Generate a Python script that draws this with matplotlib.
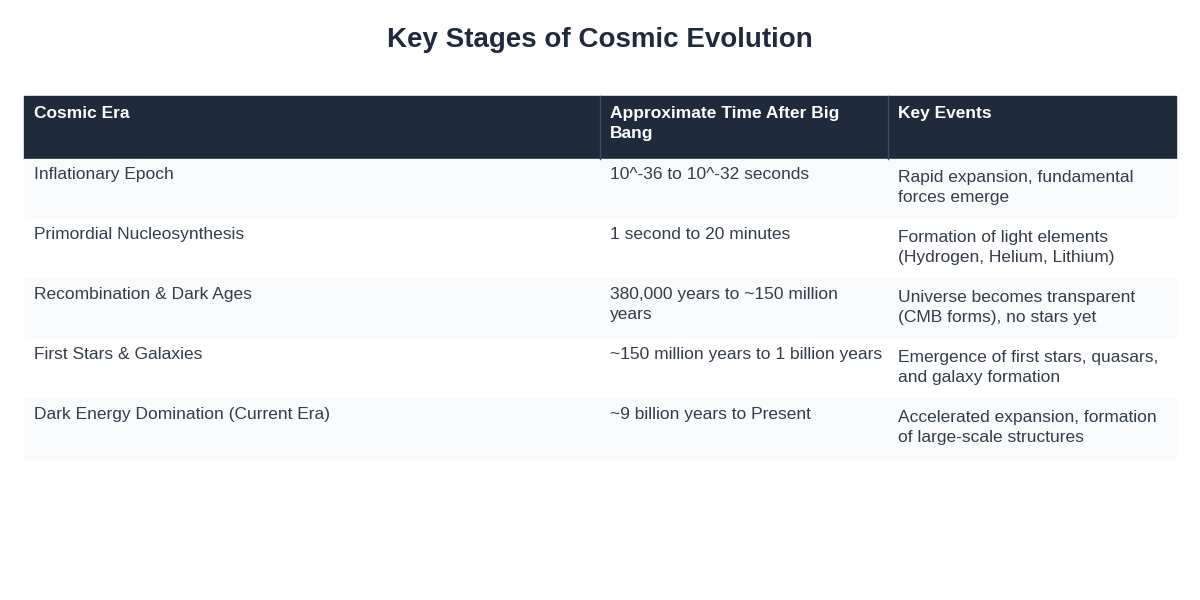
import matplotlib.pyplot as plt
from matplotlib.patches import Rectangle

plt.rcParams['font.family'] = ['Liberation Sans', 'DejaVu Sans']

#table content
title = "Key Stages of Cosmic Evolution"
headers = ["Cosmic Era", "Approximate Time After Big\nBang", "Key Events"]
eras = ["Inflationary Epoch", "Primordial Nucleosynthesis", "Recombination & Dark Ages",
        "First Stars & Galaxies", "Dark Energy Domination (Current Era)"]
times = ["10^-36 to 10^-32 seconds", "1 second to 20 minutes",
         "380,000 years to ~150 million\nyears", "~150 million years to 1 billion years",
         "~9 billion years to Present"]
events = ["Rapid expansion, fundamental\nforces emerge",
          "Formation of light elements\n(Hydrogen, Helium, Lithium)",
          "Universe becomes transparent\n(CMB forms), no stars yet",
          "Emergence of first stars, quasars,\nand galaxy formation",
          "Accelerated expansion, formation\nof large-scale structures"]

fig = plt.figure(figsize=(12, 6), dpi=100)
ax = fig.add_axes([0, 0, 1, 1])
ax.set_xlim(0, 1200)
ax.set_ylim(600, 0)
ax.axis('off')

col_x = [24, 600, 888, 1176]
header_top, header_h, row_h = 96, 63, 60
text_col = "#333d4a"

ax.text(600, 40, title, ha='center', va='center', fontsize=20, fontweight='bold', color="#1f2a3c")

# header
ax.add_patch(Rectangle((col_x[0], header_top), col_x[-1] - col_x[0], header_h, color="#1f2a3c"))
for i, h in enumerate(headers):
    ax.text(col_x[i] + 10, header_top + 10, h, ha='left', va='top', fontsize=12.5,
            fontweight='bold', color='white', linespacing=1.45)
for x in col_x[1:-1]:
    ax.plot([x, x], [header_top, header_top + header_h], color="#3a4d5c", lw=1)

# rows
for r in range(len(eras)):
    top = header_top + header_h + r * row_h
    bg = "#f8fafc" if r % 2 == 0 else "white"
    ax.add_patch(Rectangle((col_x[0], top), col_x[-1] - col_x[0], row_h, color=bg))
    ax.text(col_x[0] + 10, top + 8, eras[r], ha='left', va='top', fontsize=12.5, color=text_col)
    ax.text(col_x[1] + 10, top + 8, times[r], ha='left', va='top', fontsize=12.5,
            color=text_col, linespacing=1.45)
    ax.text(col_x[2] + 10, top + 11, events[r], ha='left', va='top', fontsize=12.5,
            color=text_col, linespacing=1.45)

fig.savefig("out.png", dpi=100, facecolor='white')
